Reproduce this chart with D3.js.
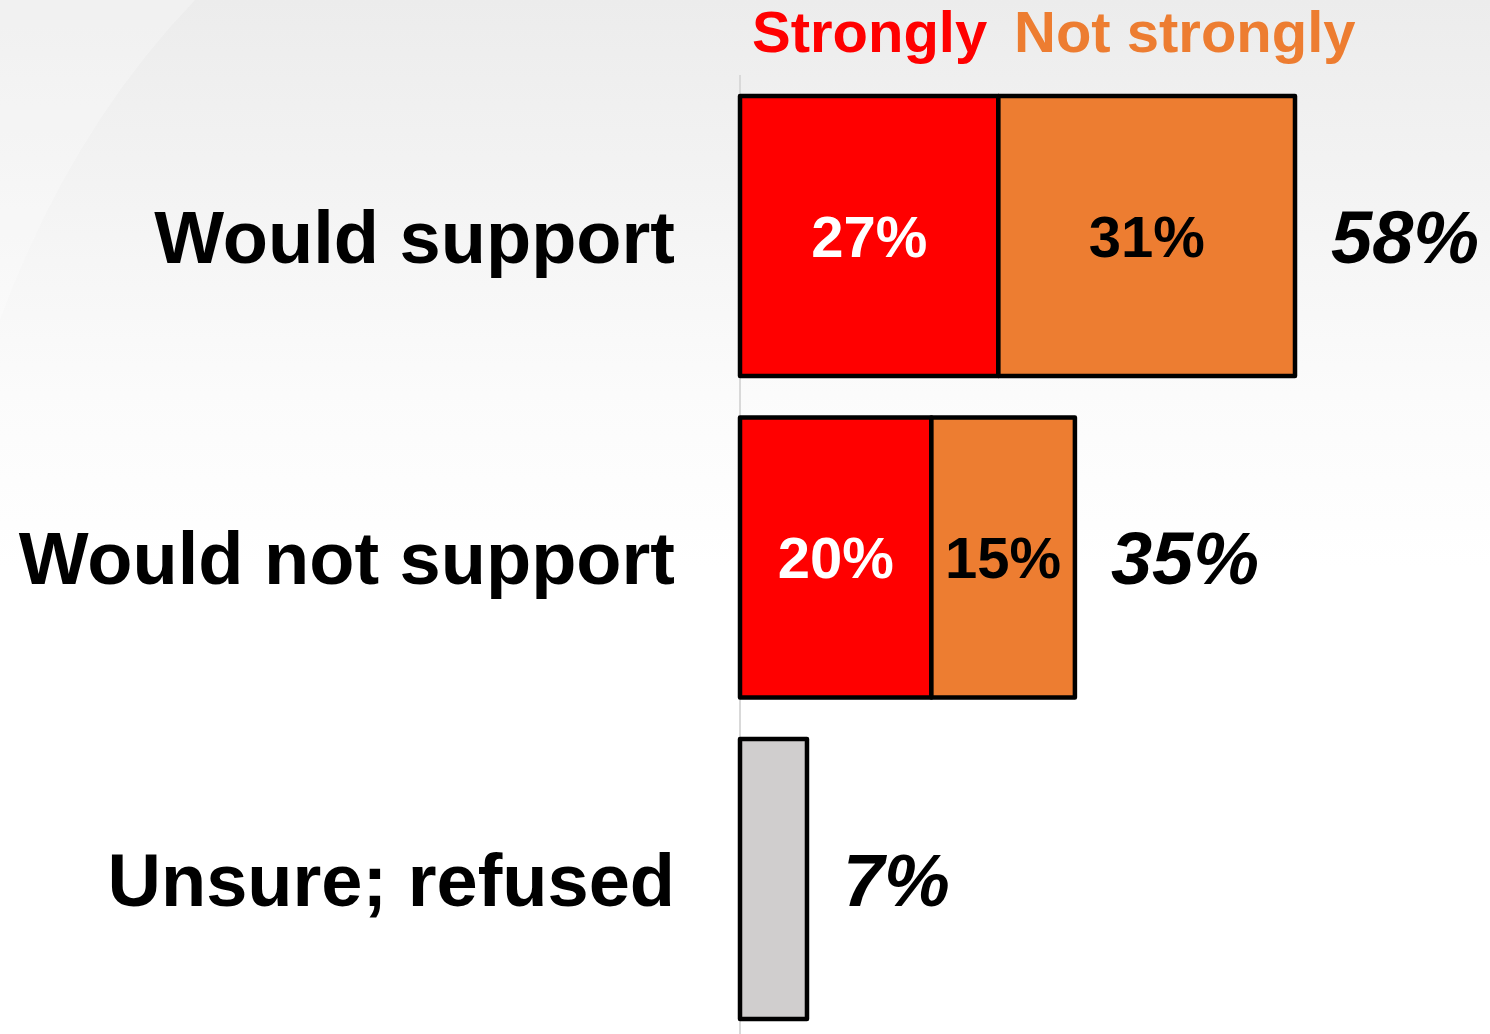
<!DOCTYPE html>
<html><head><meta charset="utf-8">
<script src="https://cdn.jsdelivr.net/npm/d3@7"></script>
<style>html,body{margin:0;padding:0;background:#fff;}svg{display:block;}</style>
</head><body>
<script>
const categories = ["Would support", "Would not support", "Unsure; refused"];
const strongly = [27, 20, null];
const notStrongly = [31, 15, null];
const other = [null, null, 7];
const totals = [58, 35, 7];
const legendLabels = ["Strongly", "Not strongly"];

const W = 1490, H = 1034;
const svg = d3.select("body").append("svg").attr("width", W).attr("height", H)
  .style("font-family", "'Liberation Sans', Arial, sans-serif");

const defs = svg.append("defs");
const g1 = defs.append("linearGradient").attr("id","bg").attr("x1",0).attr("y1",0).attr("x2",0).attr("y2",1);
g1.append("stop").attr("offset","0%").attr("stop-color","#ececec");
g1.append("stop").attr("offset","38%").attr("stop-color","#fbfbfb");
g1.append("stop").attr("offset","55%").attr("stop-color","#ffffff");
svg.append("rect").attr("width",W).attr("height",H).attr("fill","url(#bg)");
// faint background arc
svg.append("path").attr("d","M0,320 Q70,130 195,0 L0,0 Z").attr("fill","#ffffff").attr("opacity",0.25);

const x = d3.scaleLinear().domain([0, 58]).range([740, 1295]);
const y = d3.scaleBand().domain(categories).range([75.25, 75.25 + 3*321.5]).paddingInner(0.129).paddingOuter(0.0645);

// axis line
svg.append("line").attr("x1", x(0)).attr("x2", x(0)).attr("y1", 75).attr("y2", H)
  .attr("stroke", "#d9d9d9").attr("stroke-width", 2);

const segs = [];
categories.forEach((c, i) => {
  if (strongly[i] != null) segs.push({c, x0: 0, x1: strongly[i], v: strongly[i], fill: "#ff0000", tc: "#fff"});
  if (notStrongly[i] != null) segs.push({c, x0: strongly[i], x1: strongly[i] + notStrongly[i], v: notStrongly[i], fill: "#ed7d31", tc: "#000"});
  if (other[i] != null) segs.push({c, x0: 0, x1: other[i], v: other[i], fill: "#d0cece", tc: null});
});

svg.selectAll("rect.seg").data(segs).enter().append("rect").attr("class","seg")
  .attr("x", d => x(d.x0)).attr("width", d => x(d.x1) - x(d.x0))
  .attr("y", d => y(d.c)).attr("height", y.bandwidth())
  .attr("fill", d => d.fill).attr("stroke", "#000").attr("stroke-width", 4.5)
  .attr("stroke-linejoin", "round");

svg.selectAll("text.seg").data(segs.filter(d => d.tc)).enter().append("text").attr("class","seg")
  .attr("x", d => (x(d.x0) + x(d.x1)) / 2).attr("y", d => y(d.c) + y.bandwidth()/2)
  .attr("dy", "0.36em").attr("text-anchor", "middle")
  .attr("font-size", 58).attr("font-weight", "bold").attr("fill", d => d.tc)
  .text(d => d.v + "%");

svg.selectAll("text.tot").data(categories).enter().append("text").attr("class","tot")
  .attr("x", (d, i) => x(totals[i]) + 36).attr("y", d => y(d) + y.bandwidth()/2)
  .attr("dy", "0.36em").attr("font-size", 74).attr("font-weight", "bold").attr("font-style", "italic")
  .text((d, i) => totals[i] + "%");

svg.selectAll("text.cat").data(categories).enter().append("text").attr("class","cat")
  .attr("x", 675).attr("y", d => y(d) + y.bandwidth()/2)
  .attr("dy", "0.36em").attr("text-anchor", "end")
  .attr("font-size", 74).attr("font-weight", "bold").attr("fill", "#000")
  .text(d => d);

const leg = [{t: legendLabels[0], c: "#ff0000", x: 752}, {t: legendLabels[1], c: "#ed7d31", x: 1014}];
svg.selectAll("text.leg").data(leg).enter().append("text").attr("class","leg")
  .attr("x", d => d.x).attr("y", 52).attr("font-size", 58).attr("font-weight", "bold")
  .attr("fill", d => d.c).text(d => d.t);
</script>
</body></html>
